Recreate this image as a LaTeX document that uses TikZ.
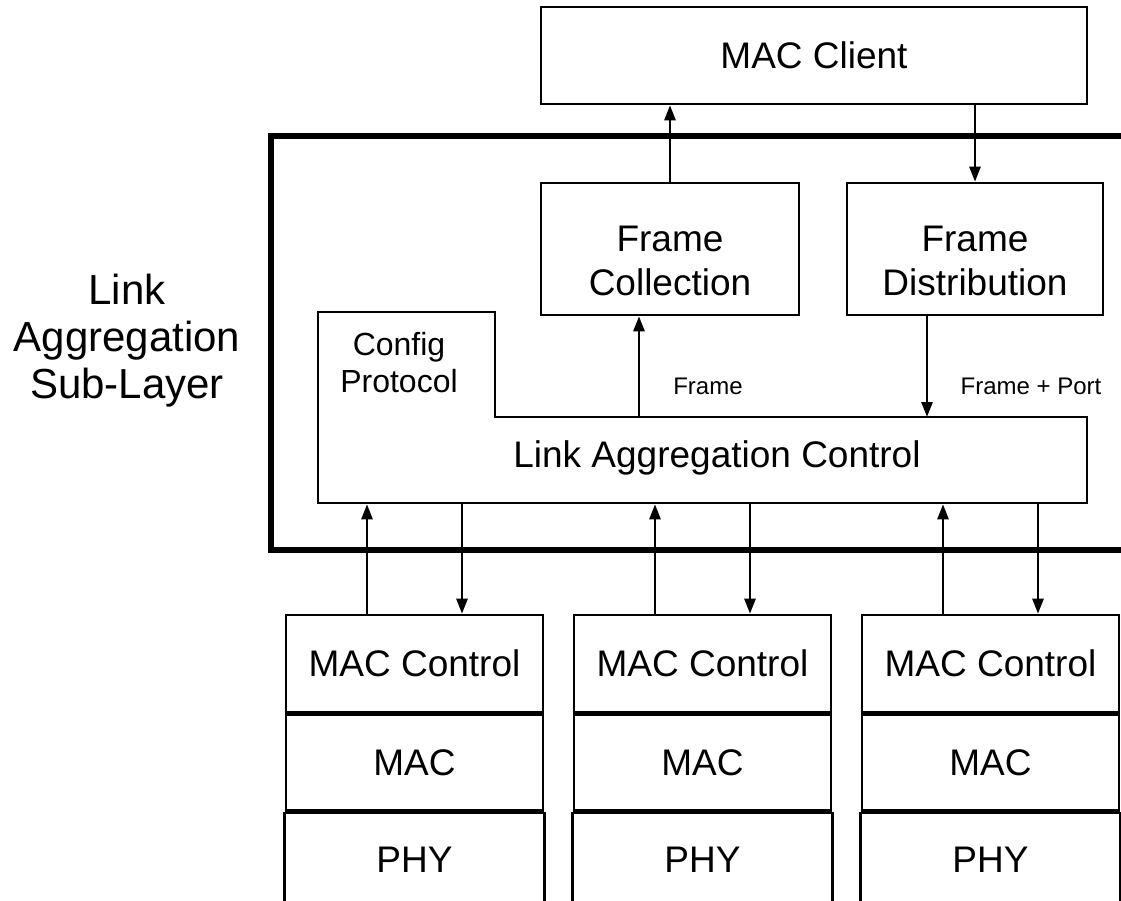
\documentclass[tikz,border=0pt]{standalone}
\usepackage{fontspec}
\setmainfont{Liberation Sans}
\usetikzlibrary{arrows.meta,positioning}
\tikzset{%
  layer box/.style={
    draw,
    line width=1.3pt,
    inner sep=0pt
  },
  big text/.style={font=\fontsize{18.5}{22}\selectfont},
  frame box/.style={
    layer box,
    minimum height=66pt,
    label={[big text, align=center, yshift=-6pt]center:#1}
  },
  stack cell/.style={
    layer box,
    big text,
    minimum width=128.5pt
  },
}

\begin{document}
\begin{tikzpicture}[x=0.5pt, y=-0.5pt, >={Triangle[length=7.5pt,width=5.5pt]}, line width=1.3pt]

\useasboundingbox (0,0) rectangle (1121,901);

% client and the two frame boxes
\node [layer box, big text, minimum width=273pt, minimum height=48.5pt] (client) at (814,55.5) {MAC Client};
\node [frame box={Frame\\Collection}, minimum width=129pt] (coll) at (670,249) {};
\node [frame box={Frame\\Distribution}, minimum width=128pt] (dist) at (975,249) {};

\draw [->] (coll.north) -- (coll.north |- client.south);
\draw [->] (client.south -| dist.north) -- (dist.north);

% sub-layer border, open on the right
\draw [line width=2.8pt, line join=miter] (1121,136) -| (271,550) -- (1121,550);
\node [align=center, font=\fontsize{21}{23.5}\selectfont] (sublayer) at (127,341) {Link\\Aggregation\\Sub-Layer};

% control block with the config tab
\draw (318,312) -- (495,312) -- (495,417) -- (1087,417) -- (1087,503) -- (318,503) -- cycle;
\node [minimum width=384.5pt, minimum height=43pt, inner sep=0pt] (lac) at (702.5,460) {};
\node [big text] (lactext) at (717,458) {Link Aggregation Control};
\node [align=center, font=\fontsize{16}{18.5}\selectfont] (config) at (399,363) {Config\\Protocol};

\coordinate (frm) at (639,417);
\coordinate (fport) at (927,417);
\draw [->] (frm) -- (frm |- coll.south);
\draw [->] (fport |- dist.south) -- (fport);
\node [font=\fontsize{12}{14}\selectfont] (frmlbl) at (708,386) {Frame};
\node [font=\fontsize{12}{14}\selectfont] (fportlbl) at (1031,386) {Frame + Port};

% port stacks
\foreach \c/\x in {1/414.5, 2/702.5, 3/990.5} {
  \node [stack cell, minimum height=48.5pt] (ctl-\c) at (\x,663.5) {MAC Control};
  \node [stack cell, minimum height=48pt, below=0pt of ctl-\c] (mac-\c) {MAC};
  \node [stack cell, draw=none, minimum height=46.5pt, below=0pt of mac-\c] (phy-\c) {PHY};
  \draw (phy-\c.north west) -- (phy-\c.south west)
        (phy-\c.north east) -- (phy-\c.south east);
  \draw [line width=1.8pt] (mac-\c.north west) -- (mac-\c.north east)
        (phy-\c.north west) -- (phy-\c.north east);

  \coordinate (up-\c) at ([xshift=-23.75pt]ctl-\c.north);
  \coordinate (dn-\c) at ([xshift=23.75pt]ctl-\c.north);
  \draw [->] (up-\c) -- (up-\c |- lac.south);
  \draw [->] (dn-\c |- lac.south) -- (dn-\c);
}

\end{tikzpicture}
\end{document}
